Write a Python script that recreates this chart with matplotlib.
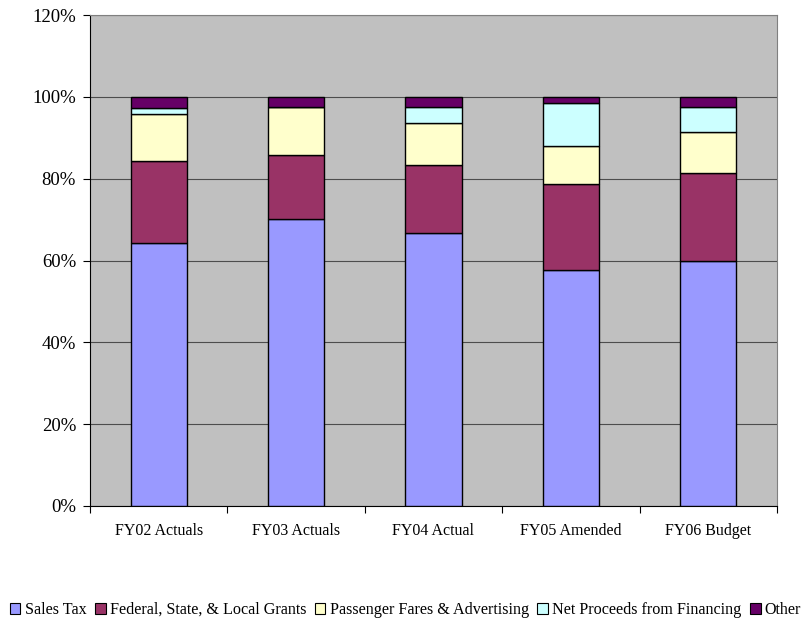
import matplotlib
matplotlib.use("Agg")
import matplotlib.pyplot as plt
import numpy as np
from matplotlib.patches import Patch
from matplotlib.ticker import FuncFormatter, MultipleLocator

# Share of revenue by source, percent of total
years = ["FY02 Actuals", "FY03 Actuals", "FY04 Actual", "FY05 Amended", "FY06 Budget"]
sales_tax = [64.3, 70.2, 66.8, 57.7, 59.9]
grants = [19.9, 15.5, 16.6, 21.1, 21.6]
fares = [11.6, 11.8, 10.3, 9.2, 9.8]
financing = [1.4, 0.0, 3.7, 10.4, 6.2]
other = [2.8, 2.5, 2.6, 1.6, 2.5]

series = [
    ("Sales Tax", sales_tax, "#9999FF"),
    ("Federal, State, & Local Grants", grants, "#993366"),
    ("Passenger Fares & Advertising", fares, "#FFFFCC"),
    ("Net Proceeds from Financing", financing, "#CCFFFF"),
    ("Other", other, "#660066"),
]

plt.rcParams["font.family"] = ["Liberation Serif", "DejaVu Serif"]

fig = plt.figure(figsize=(8.11, 6.2), dpi=100)
ax = fig.add_axes([90 / 811, 1 - 506 / 620, 687 / 811, 491 / 620])
ax.set_facecolor("#C0C0C0")

x = np.arange(len(years))
bottom = np.zeros(len(years))
for name, vals, color in series:
    vals = np.array(vals)
    ax.bar(x, vals, bottom=bottom, width=0.41, color=color,
           edgecolor="black", linewidth=1.0, zorder=3)
    bottom += vals

ax.set_xlim(-0.5, len(years) - 0.5)
ax.set_ylim(0, 120)
ax.yaxis.set_major_locator(MultipleLocator(20))
ax.yaxis.set_major_formatter(FuncFormatter(lambda v, _: f"{v:.0f}%"))
ax.grid(axis="y", color="#000000", linewidth=0.8, alpha=0.6, zorder=1)

# category labels centred, tick marks between categories
ax.set_xticks(x, labels=years, fontsize=11.5)
ax.set_xticks(np.arange(len(years) + 1) - 0.5, minor=True)
ax.tick_params(axis="x", which="major", length=0, pad=12)
ax.tick_params(axis="x", which="minor", length=5, width=0.8, direction="out")
ax.tick_params(axis="y", length=5, width=0.8, labelsize=13.5, pad=5)

for side in ("top", "right"):
    ax.spines[side].set_color("#808080")
    ax.spines[side].set_linewidth(0.8)
for side in ("left", "bottom"):
    ax.spines[side].set_color("black")
    ax.spines[side].set_linewidth(0.8)

handles = [Patch(facecolor=c, edgecolor="black", linewidth=0.8, label=n)
           for n, _, c in series]
fig.legend(handles=handles, loc="center", bbox_to_anchor=(0.5, 1 - 610 / 620),
           ncol=5, frameon=False, fontsize=11.6, handlelength=0.65,
           handleheight=0.65, handletextpad=0.25, columnspacing=0.55,
           borderaxespad=0)

fig.savefig("out.png", dpi=100)
